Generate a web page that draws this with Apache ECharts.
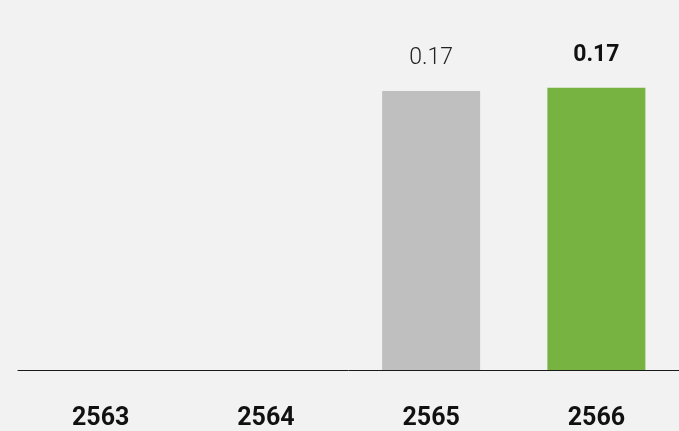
<!DOCTYPE html>
<html>
<head>
<meta charset="utf-8">
<script src="https://cdn.jsdelivr.net/npm/echarts@6/dist/echarts.min.js"></script>
<style>
html,body{margin:0;padding:0;background:#f2f2f2;}
#c{width:679px;height:431px;}
</style>
</head>
<body>
<div id="c"></div>
<script>
const categories = ['2563', '2564', '2565', '2566'];
const values = [null, null, 0.168, 0.170];
const labels = ['', '', '0.17', '0.17'];
const barColors = ['#bfbfbf', '#bfbfbf', '#bfbfbf', '#77b341'];

const chart = echarts.init(document.getElementById('c'));
chart.setOption({
  backgroundColor: '#f2f2f2',
  animation: false,
  grid: { left: 18, width: 664, top: 38, bottom: 59 },
  xAxis: {
    type: 'category',
    data: categories,
    axisLine: { lineStyle: { color: '#1a1a1a', width: 1 } },
    axisTick: { show: false },
    axisLabel: {
      margin: 36,
      fontFamily: 'Roboto',
      fontWeight: 'bold',
      fontSize: 25,
      color: '#111'
    }
  },
  yAxis: {
    type: 'value',
    min: 0,
    max: 0.2,
    show: false,
    splitLine: { show: false }
  },
  series: [{
    type: 'bar',
    barWidth: 98,
    data: values.map((v, i) => ({
      value: v,
      itemStyle: { color: barColors[i] },
      label: {
        show: v !== null,
        position: 'top',
        distance: 21,
        formatter: labels[i],
        fontFamily: 'Roboto',
        fontSize: 23,
        fontWeight: i === 3 ? 'bold' : 300,
        color: i === 3 ? '#111' : '#222'
      }
    }))
  }]
});
</script>
</body>
</html>
